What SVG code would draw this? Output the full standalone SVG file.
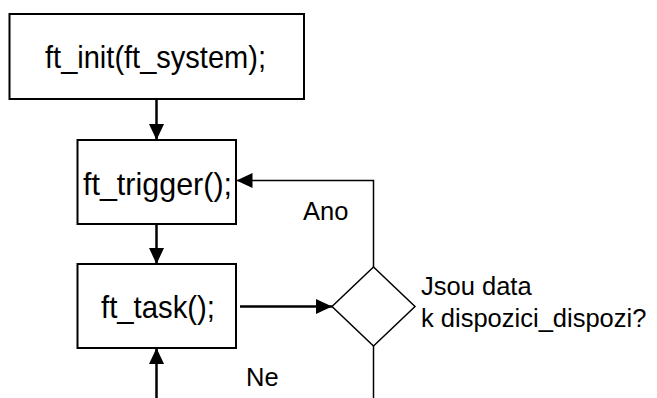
<svg xmlns="http://www.w3.org/2000/svg" width="657" height="398" viewBox="0 0 657 398">
  <style>
    .box { fill: #ffffff; stroke: #000000; stroke-width: 2; }
    .dia { fill: #ffffff; stroke: #000000; stroke-width: 1.5; }
    .line { fill: none; stroke: #000000; stroke-width: 2.5; }
    .thin { fill: none; stroke: #000000; stroke-width: 1.5; }
    .t { font-family: "Liberation Sans", Arial, sans-serif; fill: #000000; }
    .big { font-size: 30.5px; }
    .lbl { font-size: 25.5px; }
  </style>
  <defs>
    <marker id="arrow" markerWidth="16" markerHeight="15" refX="16" refY="7.5" orient="auto" markerUnits="userSpaceOnUse">
      <path d="M0,0 L16,7.5 L0,15 Z" fill="#000000"/>
    </marker>
  </defs>

  <rect width="657" height="398" fill="#ffffff"/>

  <g id="connectors">
    <!-- init -> trigger -->
    <line class="line" x1="156.5" y1="99" x2="156.5" y2="140" marker-end="url(#arrow)"/>
    <!-- trigger -> task -->
    <line class="line" x1="156.5" y1="224" x2="156.5" y2="264" marker-end="url(#arrow)"/>
    <!-- task -> decision -->
    <line class="line" x1="240" y1="306.5" x2="332" y2="306.5" marker-end="url(#arrow)"/>
    <!-- decision yes -> back to trigger -->
    <polyline class="thin" points="373.5,267 373.5,180.5 250,180.5"/>
    <line class="thin" x1="252" y1="180.5" x2="236.5" y2="180.5" marker-end="url(#arrow)"/>
    <!-- decision no -> down -->
    <line class="thin" x1="373.5" y1="346" x2="373.5" y2="398"/>
    <!-- loop back into task from below -->
    <line class="line" x1="156.5" y1="398" x2="156.5" y2="348" marker-end="url(#arrow)"/>
    <text class="t lbl" x="303" y="220" font-size="26">Ano</text>
    <text class="t lbl" x="246" y="386">Ne</text>
  </g>

  <g id="node-init">
    <rect class="box" x="9.5" y="14" width="294.5" height="85"/>
    <text class="t big" x="45" y="68" textLength="221" lengthAdjust="spacingAndGlyphs">ft_init(ft_system);</text>
  </g>

  <g id="node-trigger">
    <rect class="box" x="77.5" y="140" width="158.5" height="84"/>
    <text class="t big" x="83" y="195" textLength="149" lengthAdjust="spacingAndGlyphs">ft_trigger();</text>
  </g>

  <g id="node-task">
    <rect class="box" x="77.5" y="264" width="158.5" height="84"/>
    <text class="t big" x="101" y="318" textLength="114" lengthAdjust="spacingAndGlyphs">ft_task();</text>
  </g>

  <g id="node-decision">
    <polygon class="dia" points="373.5,267 415,306.5 373.5,346 332,306.5"/>
    <text class="t lbl" x="421" y="295">Jsou data</text>
    <text class="t lbl" x="421" y="327">k dispozici_dispozi?</text>
  </g>
</svg>
